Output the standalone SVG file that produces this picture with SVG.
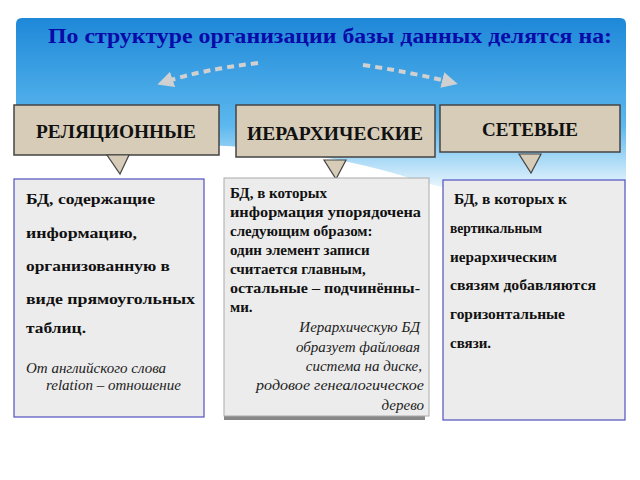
<svg xmlns="http://www.w3.org/2000/svg" width="640" height="480" viewBox="0 0 640 480">
<defs>
<linearGradient id="sky" x1="0" y1="0" x2="0" y2="1">
<stop offset="0" stop-color="#1e88d8"/><stop offset="0.6" stop-color="#5cb8ee"/><stop offset="1" stop-color="#ffffff"/>
</linearGradient>
<marker id="ah" viewBox="0 0 10 10" refX="5" refY="5" markerWidth="4" markerHeight="4" orient="auto"><path d="M0,0L10,5L0,10z" fill="#d0d0d0"/></marker>
</defs>
<style>
.hdr{fill:#d6ccb8;stroke:#444;stroke-width:1.5}
.ht{font-family:"Liberation Serif",serif;font-weight:bold;font-size:18px;fill:#111;text-anchor:middle}
.card{fill:#ececec}
.b{font-family:"Liberation Serif",serif;font-weight:bold;font-size:15px;fill:#111}
.i{font-family:"Liberation Serif",serif;font-style:italic;font-size:15px;fill:#222}
.dn{fill:#d6ccb8;stroke:#444;stroke-width:1.2}
</style>
<rect width="640" height="480" fill="#fff"/>
<path d="M16,24 Q16,18 22,18 L620,18 Q626,18 626,24 L626,190 Q500,210 400,175 Q250,130 16,150 Z" fill="url(#sky)"/>
<text x="48" y="43" font-family="Liberation Serif,serif" font-weight="bold" font-size="22" fill="#0a0aa8" textLength="564" lengthAdjust="spacingAndGlyphs">По структуре организации базы данных делятся на:</text>
<g id="connectors" fill="none" stroke="#d0d0d0" stroke-width="4" stroke-dasharray="7,5">
<path d="M258,63 Q200,70 165,82" marker-end="url(#ah)"/>
<path d="M363,65 Q410,72 450,82" marker-end="url(#ah)"/>
</g>
<g id="rel">
<rect class="hdr" x="14" y="105" width="205" height="50"/>
<text class="ht" x="116" y="138" textLength="160" lengthAdjust="spacingAndGlyphs">РЕЛЯЦИОННЫЕ</text>
<path class="dn" d="M107,155 L129,155 L120,174 Z"/>
</g>
<g id="ier">
<rect class="hdr" x="236" y="105" width="199" height="52"/>
<text class="ht" x="335" y="140" textLength="176" lengthAdjust="spacingAndGlyphs">ИЕРАРХИЧЕСКИЕ</text>
<path class="dn" d="M324,160 L346,160 L336,179 Z"/>
</g>
<g id="set">
<rect class="hdr" x="440" y="105" width="180" height="47"/>
<text class="ht" x="530" y="136" textLength="96" lengthAdjust="spacingAndGlyphs">СЕТЕВЫЕ</text>
<path class="dn" d="M519,154 L541,154 L531,173 Z"/>
</g>
<g id="card1">
<rect class="card" x="14" y="179" width="190" height="238" stroke="#5050c0" stroke-width="1.2"/>
<text class="b" x="26" y="204" textLength="129" lengthAdjust="spacingAndGlyphs">БД, содержащие</text>
<text class="b" x="26" y="238" textLength="111" lengthAdjust="spacingAndGlyphs">информацию,</text>
<text class="b" x="26" y="271" textLength="144" lengthAdjust="spacingAndGlyphs">организованную в</text>
<text class="b" x="26" y="304" textLength="169" lengthAdjust="spacingAndGlyphs">виде прямоугольных</text>
<text class="b" x="26" y="333" textLength="60" lengthAdjust="spacingAndGlyphs">таблиц.</text>
<text class="i" x="26" y="373">От английского слова</text>
<text class="i" x="46" y="390">relation – отношение</text>
</g>
<g id="card2">
<rect x="224" y="180" width="201" height="240" fill="#888"/>
<rect class="card" x="224" y="178" width="205" height="238" stroke="#aaa" stroke-width="1"/>
<g class="b" font-size="14">
<text x="230" y="198">БД, в которых</text>
<text x="230" y="217" textLength="191" lengthAdjust="spacingAndGlyphs">информация упорядочена</text>
<text x="230" y="236">следующим образом:</text>
<text x="230" y="255">один элемент записи</text>
<text x="230" y="274">считается главным,</text>
<text x="230" y="293" textLength="190" lengthAdjust="spacingAndGlyphs">остальные – подчинённы-</text>
<text x="230" y="312">ми.</text>
</g>
<g class="i" text-anchor="end">
<text x="420" y="332">Иерархическую БД</text>
<text x="420" y="352">образует файловая</text>
<text x="422" y="371">система на диске,</text>
<text x="424" y="390" textLength="168" lengthAdjust="spacingAndGlyphs">родовое генеалогическое</text>
<text x="424" y="410">дерево</text>
</g>
</g>
<g id="card3">
<rect class="card" x="443" y="180" width="182" height="240" stroke="#5050c0" stroke-width="1.2"/>
<text class="b" x="454" y="204" textLength="113" lengthAdjust="spacingAndGlyphs">БД, в которых к</text>
<text class="b" x="450" y="233" font-size="14" textLength="92" lengthAdjust="spacingAndGlyphs">вертикальным</text>
<text class="b" x="450" y="262" font-size="14" textLength="107" lengthAdjust="spacingAndGlyphs">иерархическим</text>
<text class="b" x="450" y="290" font-size="14" textLength="146" lengthAdjust="spacingAndGlyphs">связям добавляются</text>
<text class="b" x="450" y="319" font-size="14" textLength="115" lengthAdjust="spacingAndGlyphs">горизонтальные</text>
<text class="b" x="450" y="348" font-size="14">связи.</text>
</g>
</svg>
